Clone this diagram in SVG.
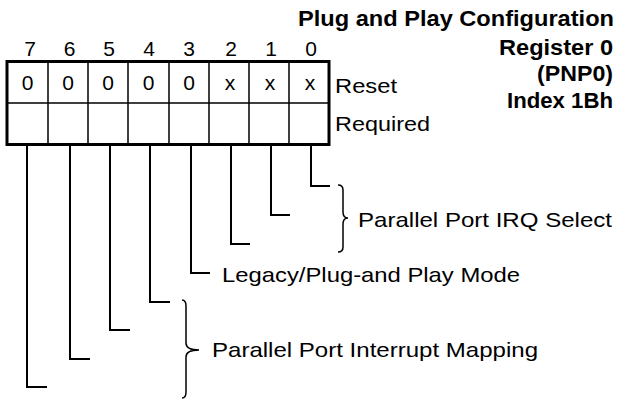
<svg xmlns="http://www.w3.org/2000/svg" width="618" height="399" viewBox="0 0 618 399">
<style>
text{font-family:"Liberation Sans",Arial,sans-serif;fill:#000}
.t{font-size:22px;font-weight:bold;text-anchor:end}
.n{font-size:21px;text-anchor:middle}
.l{font-size:21px}
.grid{stroke:#000;stroke-width:1.5;fill:none}
.outer{stroke:#000;stroke-width:3;fill:none}
.c{stroke:#000;stroke-width:2;fill:none}
.b{stroke:#000;stroke-width:1.5;fill:none}
</style>
<rect width="618" height="399" fill="#fff"/>
<g id="title">
<text class="t" x="614" y="26" textLength="316" lengthAdjust="spacingAndGlyphs">Plug and Play Configuration</text>
<text class="t" x="613" y="55" textLength="114" lengthAdjust="spacingAndGlyphs">Register 0</text>
<text class="t" x="613" y="81" textLength="76" lengthAdjust="spacingAndGlyphs">(PNP0)</text>
<text class="t" x="613" y="108" textLength="106" lengthAdjust="spacingAndGlyphs">Index 1Bh</text>
</g>
<g id="register">
<text class="n" x="30" y="56">7</text>
<text class="n" x="69.5" y="56">6</text>
<text class="n" x="109" y="56">5</text>
<text class="n" x="149" y="56">4</text>
<text class="n" x="189" y="56">3</text>
<text class="n" x="231" y="56">2</text>
<text class="n" x="271" y="56">1</text>
<text class="n" x="311" y="56">0</text>
<path class="grid" d="M7,103H329M48,62V144M88,62V144M128,62V144M169,62V144M209,62V144M249,62V144M289,62V144"/>
<rect class="outer" x="7" y="61.5" width="322" height="83"/>
<text class="n" x="27.5" y="90">0</text>
<text class="n" x="68" y="90">0</text>
<text class="n" x="108" y="90">0</text>
<text class="n" x="148.5" y="90">0</text>
<text class="n" x="189" y="90">0</text>
<text class="n" x="230" y="90">x</text>
<text class="n" x="270" y="90">x</text>
<text class="n" x="310" y="90">x</text>
<text class="l" x="335" y="93" textLength="62" lengthAdjust="spacingAndGlyphs">Reset</text>
<text class="l" x="335" y="131" textLength="95" lengthAdjust="spacingAndGlyphs">Required</text>
</g>
<g id="connectors">
<path class="c" d="M311,144V186H330"/>
<path class="c" d="M271,144V215H290"/>
<path class="c" d="M231,144V244H250"/>
<path class="c" d="M191,144V273H210"/>
<path class="c" d="M150,144V302H170"/>
<path class="c" d="M110,144V330H130"/>
<path class="c" d="M70,144V359H90"/>
<path class="c" d="M27,144V387H47"/>
</g>
<g id="irq">
<path class="b" d="M338,185Q343,185 343,190V212Q343,218 348,218Q343,218 343,224V247Q343,252 338,252"/>
<text class="l" x="358" y="227" textLength="254" lengthAdjust="spacingAndGlyphs">Parallel Port IRQ Select</text>
</g>
<g id="mode">
<text class="l" x="222" y="282" textLength="298" lengthAdjust="spacingAndGlyphs">Legacy/Plug-and Play Mode</text>
</g>
<g id="mapping">
<path class="b" d="M182,300Q186,300 186,306V343Q186,350 199,350Q186,350 186,357V392Q186,398 182,398"/>
<text class="l" x="212" y="357" textLength="326" lengthAdjust="spacingAndGlyphs">Parallel Port Interrupt Mapping</text>
</g>
</svg>
